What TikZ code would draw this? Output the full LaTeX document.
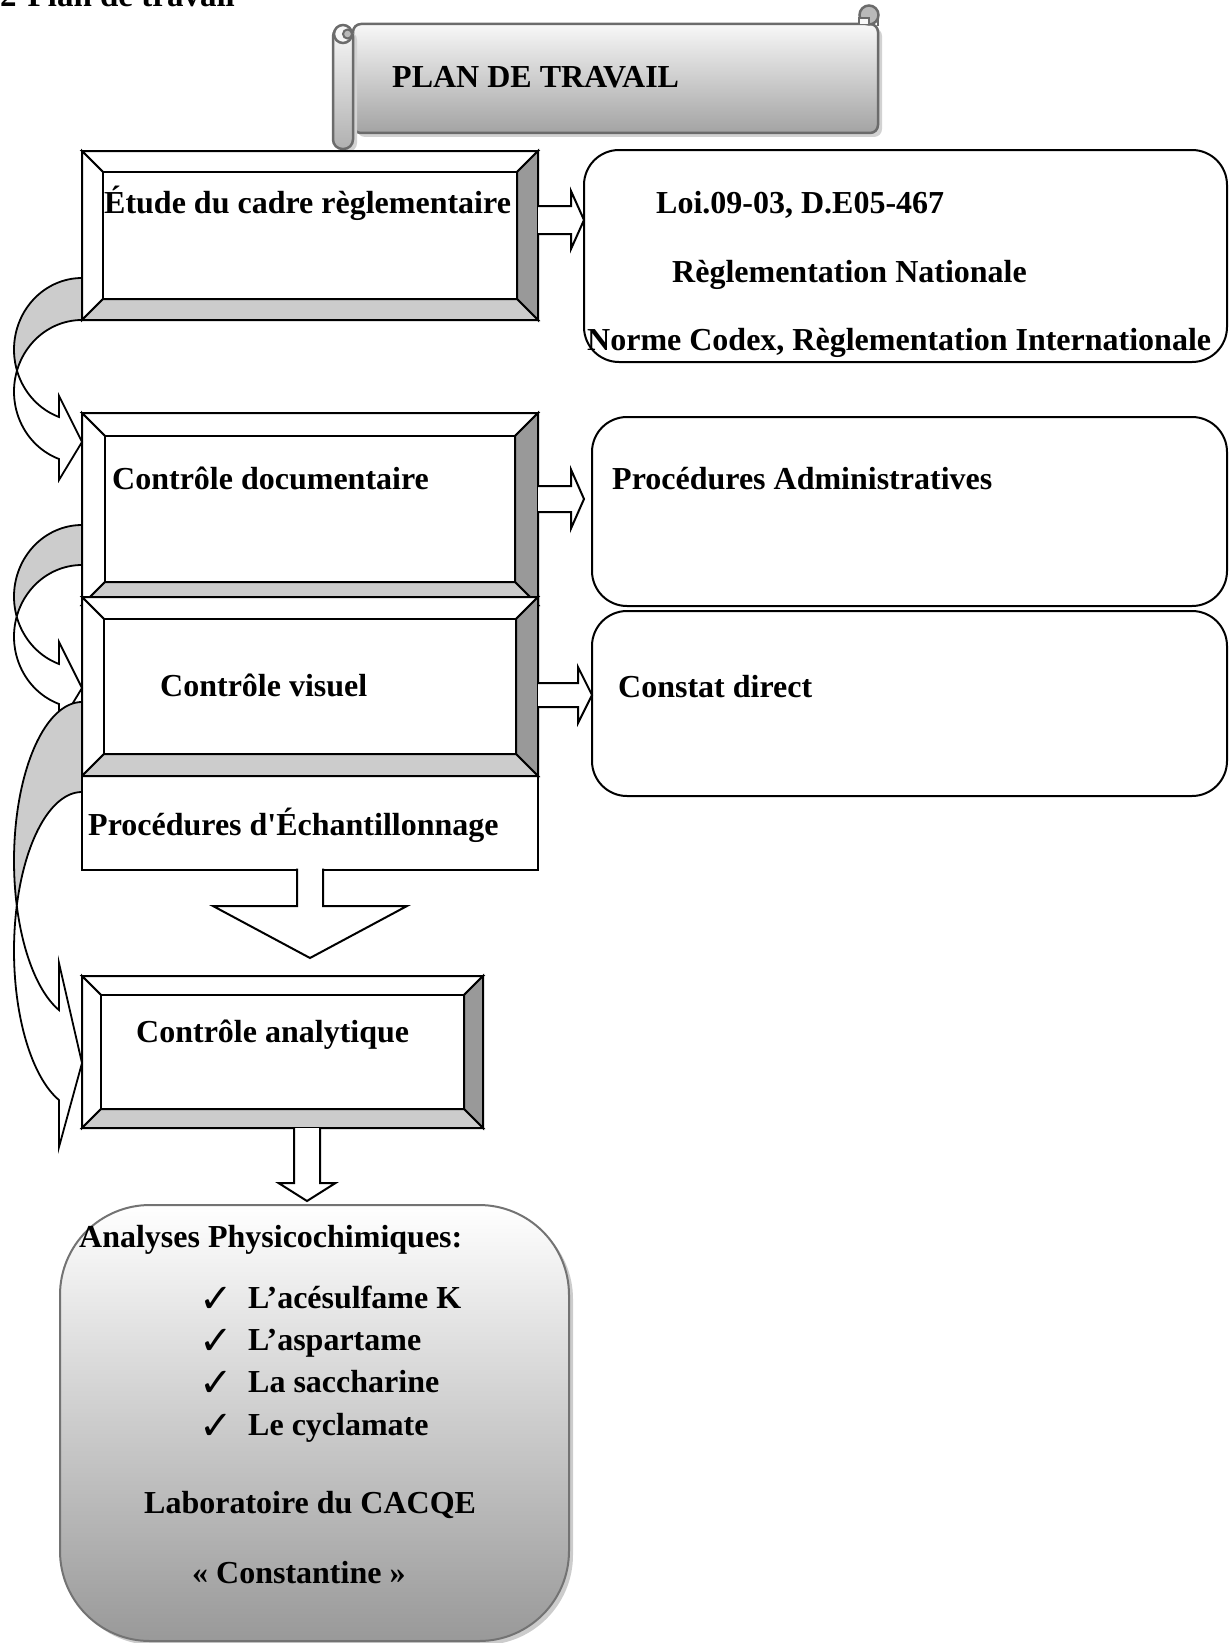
\documentclass[tikz,border=0pt]{standalone}
\usepackage{fontspec}
\setmainfont{Liberation Serif}[Ligatures=TeXOff]
\newfontfamily\dejavu{DejaVu Sans}
\usetikzlibrary{calc}
\definecolor{bevR}{gray}{0.6}
\definecolor{bevB}{gray}{0.8}
\definecolor{backG}{gray}{0.8}
\definecolor{scrTop}{gray}{0.97}
\definecolor{scrBot}{gray}{0.64}
\definecolor{scrLine}{gray}{0.42}
\definecolor{bbBot}{gray}{0.6}
\definecolor{bbLine}{gray}{0.45}

\newcommand\bevelbox[2]{%
 \coordinate (#1-inw) at ($(#1.north west)+(#2,#2)$);
 \coordinate (#1-ine) at ($(#1.north east)+(-#2,#2)$);
 \coordinate (#1-ise) at ($(#1.south east)+(-#2,-#2)$);
 \coordinate (#1-isw) at ($(#1.south west)+(#2,-#2)$);
 \filldraw[edge, fill=white] (#1.north west) -- (#1.north east) -- (#1-ine) -- (#1-inw) -- cycle;
 \filldraw[edge, fill=white] (#1.north west) -- (#1-inw) -- (#1-isw) -- (#1.south west) -- cycle;
 \filldraw[edge, fill=bevR] (#1.north east) -- (#1.south east) -- (#1-ise) -- (#1-ine) -- cycle;
 \filldraw[edge, fill=bevB] (#1.south west) -- (#1-isw) -- (#1-ise) -- (#1.south east) -- cycle;
 \filldraw[edge, fill=white] (#1-inw) rectangle (#1-ise);
}

% #1 right x, #2 tail top y, #3 thickness, #4 y radius, #5 barb protrusion, #6 tip shift
\newcommand\curvarrow[6]{%
 \pgfmathsetmacro\caU{#2+#4}%
 \pgfmathsetmacro\caL{#2+#4+#3}%
 \pgfmathsetmacro\caps{asin(#3/(2*#4))}%
 \pgfmathsetmacro\capU{180-\caps}%
 \pgfmathsetmacro\capL{180+\caps}%
 \pgfmathsetmacro\caub{\caU+0.9411*#4}%
 \pgfmathsetmacro\calb{\caL+0.9411*#4}%
 \pgfmathsetmacro\catip{(\caub+\calb)/2+#6}%
 \filldraw[cedge, fill=backG] plot[domain=270:\capU, samples=50] ({#1+68*cos(\x)},{\caU+#4*sin(\x)})
   -- plot[domain=\capL:270, samples=50] ({#1+68*cos(\x)},{\caL+#4*sin(\x)}) -- cycle;
 \filldraw[cedge, fill=white] plot[domain=\capU:109.77, samples=40] ({#1+68*cos(\x)},{\caU+#4*sin(\x)})
   -- (#1-23,\caub-#5) -- (#1,\catip) -- (#1-23,\calb+#5) -- (#1-23,\calb)
   -- plot[domain=109.77:\capL, samples=40] ({#1+68*cos(\x)},{\caL+#4*sin(\x)}) -- cycle;
}

\begin{document}
\begin{tikzpicture}[x=1pt,y=-1pt,
 txt/.style={font=\fontsize{32}{38}\selectfont\bfseries, inner sep=0pt, anchor=base west},
 chk/.style={font=\dejavu\fontsize{40}{40}\selectfont, inner sep=0pt, anchor=base west},
 boxframe/.style={draw=none, inner sep=0pt, outer sep=0pt, anchor=north west},
 edge/.style={draw=black, line width=2pt, line join=miter},
 cedge/.style={draw=black, line width=1.8pt, line join=miter},
 barrow/.style={fill=white, draw=black, line width=2pt, line join=miter},
 rbox/.style={draw=black, line width=2pt, rounded corners=35pt, fill=white, inner sep=0pt, outer sep=0pt, anchor=north west},
]
\useasboundingbox (0,0) rectangle (1229,1643);

% title
\node[txt, font=\fontsize{33}{38}\selectfont\bfseries] (title) at (0,7) {2-Plan de travail};

% scroll
\fill[gray!35, rounded corners=8pt] (357,28) rectangle (882,137);
\shadedraw[top color=scrTop, bottom color=scrBot, draw=scrLine, line width=2.5pt, rounded corners=8pt] (353,24) rectangle (878,133);
\filldraw[fill=gray!55, draw=scrLine, line width=2.5pt] (869,15) circle[radius=9.5pt];
\filldraw[fill=scrTop, draw=scrLine, line width=2pt] (859,24) -- (859,18) -- (869,18) -- (869,24);
\draw[scrLine, line width=2.5pt] (878,15) -- (878,26);
\fill[gray!35, rounded corners=9pt] (337,31) rectangle (357,152);
\shadedraw[top color=scrTop, bottom color=gray!62, draw=scrLine, line width=2.5pt, rounded corners=9.5pt] (333,27) rectangle (353,149);
\filldraw[fill=scrTop, draw=scrLine, line width=2.5pt] (343,34) circle[radius=9pt];
\filldraw[fill=gray!55, draw=scrLine, line width=2pt] (347.5,34) circle[radius=4.5pt];
\node[txt] (plan) at (392,88) {PLAN DE TRAVAIL};

% left column boxes
\node[boxframe, minimum width=456pt, minimum height=169pt] (b1) at (82,151) {};
\bevelbox{b1}{21}
\node[boxframe, minimum width=456pt, minimum height=192pt] (b2) at (82,413) {};
\bevelbox{b2}{23}
\node[boxframe, draw, line width=2pt, fill=white, minimum width=456pt, minimum height=94pt] (pb) at (82,776) {};
\node[boxframe, minimum width=456pt, minimum height=179pt] (b3) at (82,597) {};
\bevelbox{b3}{22}
\node[boxframe, minimum width=401pt, minimum height=152pt] (b4) at (82,976) {};
\bevelbox{b4}{19}

\node[txt] (t1) at (104,213) {Étude du cadre règlementaire};
\node[txt] (t2) at (112,489) {Contrôle documentaire};
\node[txt] (t3) at (160,696) {Contrôle visuel};
\node[txt] (t4) at (88,835) {Procédures d'Échantillonnage};
\node[txt] (t5) at (136,1042) {Contrôle analytique};

% right boxes
\node[rbox, minimum width=643pt, minimum height=212pt] (r1) at (584,150) {};
\node[rbox, minimum width=635pt, minimum height=189pt] (r2) at (592,417) {};
\node[rbox, minimum width=635pt, minimum height=185pt] (r3) at (592,611) {};
\node[txt] (r1a) at (656,213) {Loi.09-03, D.E05-467};
\node[txt] (r1b) at (672,282) {Règlementation Nationale};
\node[txt] (r1c) at (587,350) {Norme Codex, Règlementation Internationale};
\node[txt] (r2a) at (612,489) {Procédures Administratives};
\node[txt] (r3a) at (618,697) {Constat direct};

% right block arrows
\coordinate (a1s) at ($(b1.north east)+(0,69)$);
\coordinate (a1e) at (a1s -| r1.west);
\filldraw[barrow] ($(a1s)+(0,-14)$) -- ($(a1e)+(-13,-14)$) -- ($(a1e)+(-13,-29)$) -- (a1e)
  -- ($(a1e)+(-13,29)$) -- ($(a1e)+(-13,14)$) -- ($(a1s)+(0,14)$);
\coordinate (a2s) at ($(b2.north east)+(0,86)$);
\coordinate (a2e) at ($(a2s -| r2.west)+(-8,0)$);
\filldraw[barrow] ($(a2s)+(0,-13)$) -- ($(a2e)+(-13,-13)$) -- ($(a2e)+(-13,-29.5)$) -- (a2e)
  -- ($(a2e)+(-13,29.5)$) -- ($(a2e)+(-13,13)$) -- ($(a2s)+(0,13)$);
\coordinate (a3s) at ($(b3.north east)+(0,98)$);
\coordinate (a3e) at (a3s -| r3.west);
\filldraw[barrow] ($(a3s)+(0,-12)$) -- ($(a3e)+(-14,-12)$) -- ($(a3e)+(-14,-28)$) -- (a3e)
  -- ($(a3e)+(-14,28)$) -- ($(a3e)+(-14,12)$) -- ($(a3s)+(0,12)$);

% down arrow from sampling box
\coordinate (d1s) at (pb.south);
\coordinate (d1e) at ($(pb.south)+(0,88)$);
\filldraw[barrow] ($(d1s)+(-13,-1.5)$) -- ($(d1e)+(-13,-52)$) -- ($(d1e)+(-97,-52)$) -- (d1e)
  -- ($(d1e)+(97,-52)$) -- ($(d1e)+(13,-52)$) -- ($(d1s)+(13,-1.5)$);

% bottom box
\fill[gray!40, rounded corners=90pt] (64,1209) rectangle (573,1645);
\node[boxframe, minimum width=509pt, minimum height=436pt, rounded corners=90pt, draw=bbLine, line width=2pt, top color=white, bottom color=bbBot] (bb) at (60,1205) {};

% down arrow from analytical box
\coordinate (d2s) at ($(b4.south west)+(225,0)$);
\coordinate (d2e) at ($(d2s |- bb.north)+(0,-4)$);
\filldraw[barrow] ($(d2s)+(-13,0)$) -- ($(d2e)+(-13,-18)$) -- ($(d2e)+(-28.5,-18)$) -- (d2e)
  -- ($(d2e)+(28.5,-18)$) -- ($(d2e)+(13,-18)$) -- ($(d2s)+(13,0)$);

\node[txt] (bb1) at (79,1247) {Analyses Physicochimiques:};
\node[chk] (c1) at (199,1312) {✓};
\node[chk] (c2) at (199,1354) {✓};
\node[chk] (c3) at (199,1396) {✓};
\node[chk] (c4) at (199,1439) {✓};
\node[txt] (i1) at (248,1308) {L’acésulfame K};
\node[txt] (i2) at (248,1350) {L’aspartame};
\node[txt] (i3) at (248,1392) {La saccharine};
\node[txt] (i4) at (248,1435) {Le cyclamate};
\node[txt] (bb2) at (144,1513) {Laboratoire du CACQE};
\node[txt] (bb3) at (192,1583) {« Constantine »};

% curved arrows on the left
\curvarrow{82}{278}{42}{71.6}{21}{4}
\curvarrow{82}{525}{40}{71.6}{22}{4}
\curvarrow{82}{702}{90}{158.7}{47}{8}
\end{tikzpicture}
\end{document}
